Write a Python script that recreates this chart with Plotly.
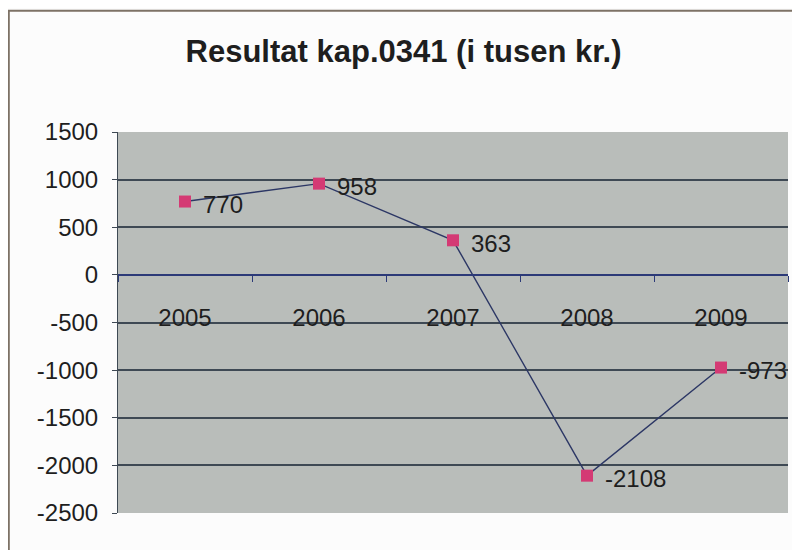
import plotly.graph_objects as go

# chart data
years = ["2005", "2006", "2007", "2008", "2009"]
result = [770, 958, 363, -2108, -973]
yTicks = [1500, 1000, 500, 0, -500, -1000, -1500, -2000, -2500]

labelFont = dict(family="Liberation Sans, Arial", size=24, color="#1e1e1e")

fig = go.Figure()

fig.add_trace(go.Scatter(
    x=years,
    y=result,
    mode="lines+markers",
    line=dict(color="#2c3765", width=1.4),
    marker=dict(symbol="square", size=12, color="#d43a74"),
    cliponaxis=False,
    showlegend=False,
))

# data labels, placed right of each marker like Excel does
# (category index as x, so "2005" is not read as a number)
for i, value in enumerate(result):
    fig.add_annotation(x=i, y=value, text=str(value), showarrow=False,
                       xanchor="left", yanchor="middle", xshift=16, yshift=-3,
                       font=labelFont)

# outer chart frame (scanned border)
fig.add_shape(type="rect", xref="paper", yref="paper",
              x0=-0.163, x1=1.04, y0=-0.15, y1=1.318,
              line=dict(color="#7d7266", width=2), layer="below")

# the page body adds an 8px margin, so the figure is 8px smaller and shifted
fig.update_layout(
    width=792,
    height=542,
    margin=dict(l=110, r=12, t=124, b=37),
    paper_bgcolor="#fcfcfc",
    plot_bgcolor="#b9bdba",
    font=dict(family="Liberation Sans, Arial", size=24, color="#1e1e1e"),
    title=dict(
        text="<b>Resultat kap.0341 (i tusen kr.)</b>",
        x=0.4994, xanchor="center",
        y=0.921, yanchor="middle",
        font=dict(family="Liberation Sans, Arial", size=31, color="#1e1e1e"),
    ),
    xaxis=dict(
        type="category",
        range=[-0.5, len(years) - 0.5],
        anchor="free",
        position=0.625,
        showgrid=False,
        showline=True,
        linecolor="#2c3a78",
        linewidth=1.5,
        ticks="outside",
        tickson="boundaries",
        ticklen=6,
        tickcolor="#2c3a78",
        ticklabelstandoff=22,
        zeroline=False,
    ),
    yaxis=dict(
        range=[-2500, 1500],
        tickvals=yTicks,
        ticktext=[str(v) for v in yTicks],
        showgrid=True,
        gridcolor="#3e4954",
        gridwidth=1.5,
        zeroline=False,
        showline=True,
        linecolor="#3e4954",
        linewidth=1,
        ticks="outside",
        ticklen=5,
        tickcolor="#3e4954",
        ticklabelstandoff=9,
    ),
)

fig.write_html("out.html")
